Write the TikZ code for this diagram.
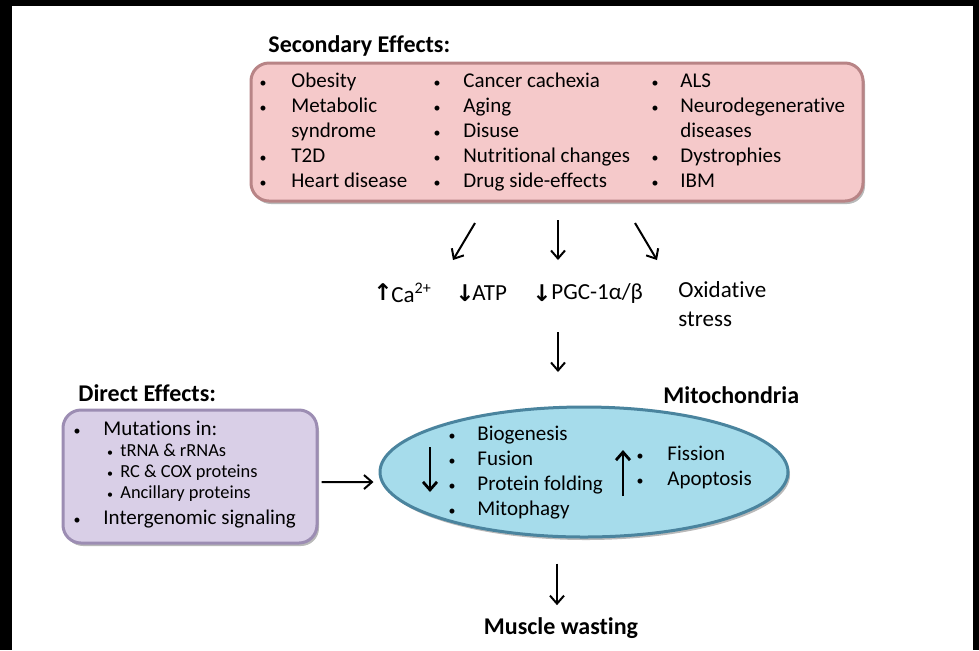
\documentclass[tikz,border=0pt]{standalone}
\usepackage{fontspec}
\setmainfont{Carlito}[RawFeature={-liga;-clig;-calt;-dlig}]
\newfontfamily\symfont{DejaVu Sans}
\usetikzlibrary{arrows.meta,shapes.geometric,shadows}
\definecolor{pinkfill}{HTML}{F5C9CA}
\definecolor{pinkedge}{HTML}{B88486}
\definecolor{lilacfill}{HTML}{D9CFE7}
\definecolor{lilacedge}{HTML}{9C8DB3}
\definecolor{bluefill}{HTML}{A6DCEB}
\definecolor{blueedge}{HTML}{4A849E}

\begin{document}
\begin{tikzpicture}[x=0.5pt,y=-0.5pt,
    arr/.style={-{Straight Barb[length=4pt,width=7pt]}, line width=1pt},
    item/.style={inner sep=0pt, anchor=west, font=\fontsize{10.5}{12}\selectfont, text height=7.5pt, text depth=2.2pt},
    subitem/.style={item, font=\fontsize{9.2}{11}\selectfont},
    bul/.style={item, anchor=center, font=\fontsize{7}{8}\selectfont},
    subbul/.style={item, anchor=center, font=\fontsize{6}{7}\selectfont},
    head/.style={inner sep=0pt, anchor=west, font=\fontsize{12}{14}\selectfont\bfseries},
    lab/.style={inner sep=0pt, anchor=west, font=\fontsize{11.5}{14.5}\selectfont},
    panel/.style={rounded corners=9pt, line width=1.5pt, drop shadow={shadow xshift=1pt, shadow yshift=-1.5pt, opacity=.55}}]
    \useasboundingbox (0,0) rectangle (979,650);
    \fill[white] (0,0) rectangle (979,650);
    \fill[black] (0,0) rectangle (12,650);
    \fill[black] (0,0) rectangle (979,6);
    \fill[black] (973,0) rectangle (979,650);

    % secondary effects
    \node[head] (sechead) at (268,46) {Secondary Effects:};
    \node[panel, draw=pinkedge, fill=pinkfill, minimum width=306pt, minimum height=69pt] (secbox) at (557,132) {};
    \foreach \t [count=\i] in {Obesity,Metabolic,syndrome,T2D,Heart disease}
        \node[item] (sa\i) at (291,57+25*\i) {\t};
    \foreach \t [count=\i] in {Cancer cachexia,Aging,Disuse,Nutritional changes,Drug side-effects}
        \node[item] (sb\i) at (463,57+25*\i) {\t};
    \foreach \t [count=\i] in {ALS,Neurodegenerative,diseases,Dystrophies,IBM}
        \node[item] (sc\i) at (680,57+25*\i) {\t};
    \foreach \i in {1,2,4,5} {
        \node[bul] (ba\i) at (263,57+25*\i) {•};
        \node[bul] (bc\i) at (655,57+25*\i) {•};
    }
    \foreach \i in {1,...,5}
        \node[bul] (bb\i) at (437,57+25*\i) {•};

    % middle labels
    \node[lab, anchor=center, font=\fontsize{11.5}{14}\symfont\bfseries] (caup) at (383,292) {↑};
    \node[lab] (ca) at (391,293) {Ca\textsuperscript{2+}};
    \node[lab, anchor=center, font=\fontsize{11.5}{14}\symfont\bfseries] (atpdown) at (465,293) {↓};
    \node[lab] (atp) at (472,293) {ATP};
    \node[lab, anchor=center, font=\fontsize{11.5}{14}\symfont\bfseries] (pgcdown) at (542,293) {↓};
    \node[lab] (pgc) at (551,293) {PGC-1α/β};
    \node[lab, anchor=north west, align=left] (ox) at (678,281) {Oxidative\\stress};

    \coordinate (a1s) at (475,223); \coordinate (a1e) at (453,260);
    \coordinate (a2s) at (558,220); \coordinate (a2e) at (558,260);
    \coordinate (a3s) at (635,223); \coordinate (a3e) at (657,260);
    \coordinate (a4s) at (558,332); \coordinate (a4e) at (558,372);
    \draw[arr] (a1s) -- (a1e);
    \draw[arr] (a2s) -- (a2e);
    \draw[arr] (a3s) -- (a3e);
    \draw[arr] (a4s) -- (a4e);

    % direct effects
    \node[head] (dirhead) at (78,393) {Direct Effects:};
    \node[panel, draw=lilacedge, fill=lilacfill, minimum width=127pt, minimum height=66.5pt] (dirbox) at (190,476.5) {};
    \node[bul] (bd1) at (77,430) {•};
    \node[item] (d1) at (103,430) {Mutations in:};
    \foreach \t [count=\i] in {tRNA \& rRNAs,RC \& COX proteins,Ancillary proteins} {
        \node[subbul] (bs\i) at (110,430+21*\i) {•};
        \node[subitem] (ds\i) at (120,430+21*\i) {\t};
    }
    \node[bul] (bd2) at (77,519) {•};
    \node[item] (d2) at (103,519) {Intergenomic signaling};

    % mitochondria
    \node[head] (mitohead) at (663,395) {Mitochondria};
    \node[ellipse, draw=blueedge, fill=bluefill, line width=1.5pt, minimum width=204pt, minimum height=65pt,
        drop shadow={shadow xshift=1pt, shadow yshift=-1.5pt, opacity=.55}] (mito) at (584,472) {};
    \foreach \t [count=\i] in {Biogenesis,Fusion,Protein folding,Mitophagy} {
        \node[bul] (bm\i) at (452,410+25*\i) {•};
        \node[item] (m\i) at (477,410+25*\i) {\t};
    }
    \foreach \t [count=\i] in {Fission,Apoptosis} {
        \node[bul] (bn\i) at (640,430+25*\i) {•};
        \node[item] (n\i) at (667,430+25*\i) {\t};
    }
    \coordinate (dns) at (430,447); \coordinate (dne) at (430,492);
    \coordinate (ups) at (623,496); \coordinate (upe) at (623,450);
    \draw[arr, line width=1.4pt] (dns) -- (dne);
    \draw[arr, line width=1.4pt] (ups) -- (upe);

    \draw[arr] ([xshift=1.5pt,yshift=-2.8pt]dirbox.east) -- ([xshift=-2.5pt,yshift=-5pt]mito.west);

    % outcome
    \node[head, anchor=center] (muscle) at (561,628) {Muscle wasting};
    \draw[arr, shorten <=12.5pt, shorten >=6pt] (mito.south -| 557,0) -- (muscle.north -| 557,0);
\end{tikzpicture}
\end{document}
